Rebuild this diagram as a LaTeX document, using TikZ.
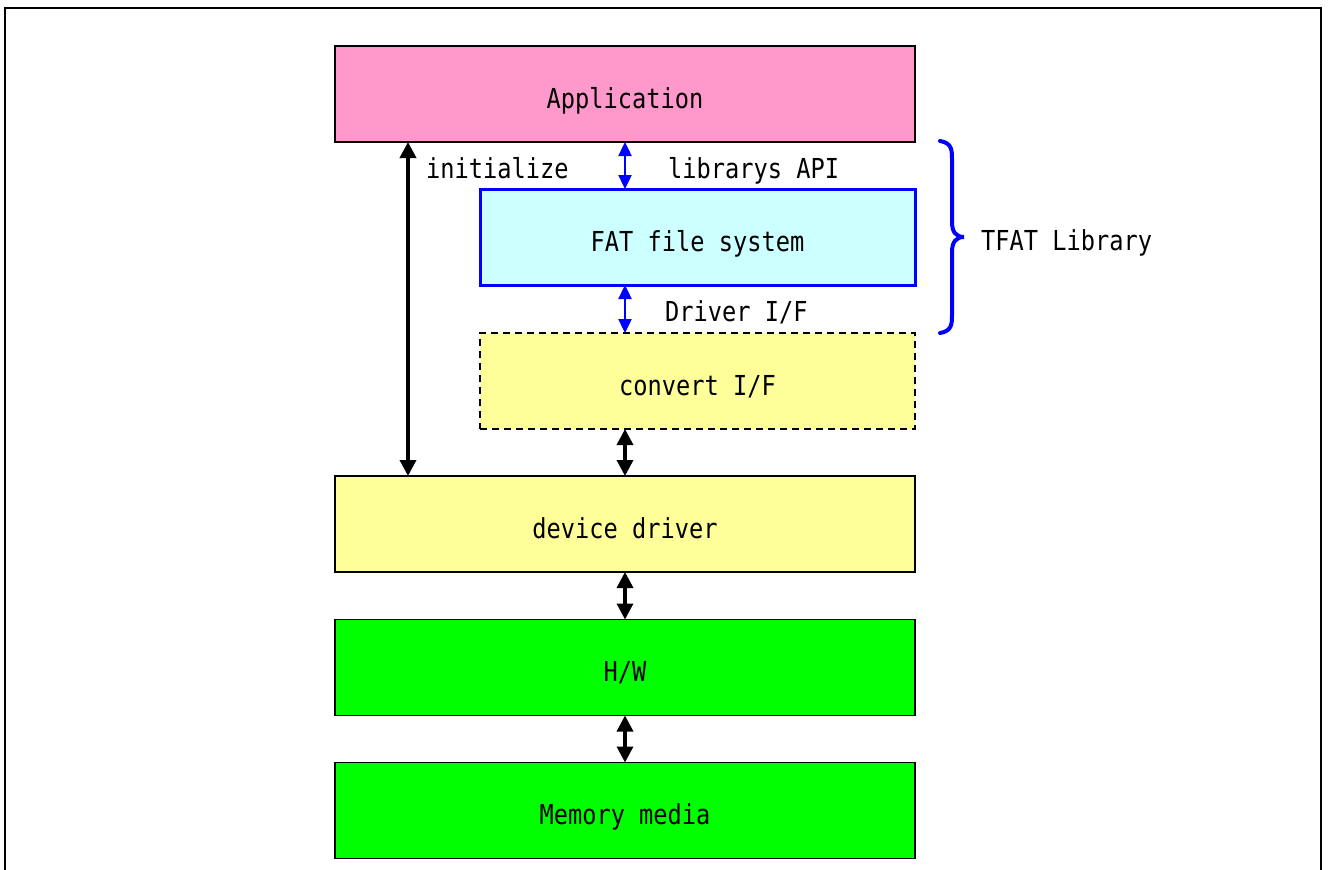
\documentclass[tikz,border=0pt]{standalone}
\usepackage{fontspec}
\usetikzlibrary{arrows.meta}
\newfontfamily\gfont[FakeStretch=0.86]{DejaVu Sans Mono}
\definecolor{pinkA}{HTML}{FF99CC}
\definecolor{cyanA}{HTML}{CCFFFF}
\definecolor{yelA}{HTML}{FFFF99}
\definecolor{grnA}{HTML}{00FF00}
\definecolor{bluA}{HTML}{0000FF}
\tikzset{
  blk/.style={draw=black, line width=1.6pt, minimum width=580pt, minimum height=96pt, inner sep=0pt, outer sep=0pt, text height=28pt, text depth=0pt, font=\gfont\fontsize{27.5}{30}\selectfont},
  nblk/.style={blk, minimum width=435pt},
  lbl/.style={anchor=west, inner sep=0pt, text height=20pt, text depth=0pt, font=\gfont\fontsize{27.5}{30}\selectfont},
  barr/.style={line width=3.5pt, {Triangle[width=16pt,length=16pt]}-{Triangle[width=16pt,length=16pt]}},
  uarr/.style={line width=2.4pt, bluA, {Triangle[width=13pt,length=14pt]}-{Triangle[width=13pt,length=14pt]}},
}
\begin{document}
\begin{tikzpicture}[x=1pt,y=-1pt]
\useasboundingbox (0,0) rectangle (1328,870);
\draw[line width=2.5pt] (5,872) -- (5,8) -- (1321,8) -- (1321,872);
\node[blk, fill=pinkA] (app) at (625,94) {Application};
\node[nblk, fill=cyanA, draw=bluA, line width=3pt] (fat) at (697.5,237) {FAT file system};
\node[nblk, fill=yelA, dashed, dash pattern=on 7pt off 5pt, line width=1.8pt] (conv) at (697.5,381) {convert I/F};
\node[blk, fill=yelA] (dev) at (625,524) {device driver};
\node[blk, fill=grnA] (hw) at (625,667.5) {H/W};
\node[blk, fill=grnA] (mem) at (625,810.5) {Memory media};
\coordinate (ix) at (408,0);
\draw[barr] (app.south -| ix) -- (dev.north -| ix);
\draw[uarr] (app.south) -- (fat.north -| app.south);
\draw[uarr] (fat.south -| app.south) -- (conv.north -| app.south);
\draw[barr] (conv.south -| app.south) -- (dev.north);
\draw[barr] (dev.south) -- (hw.north);
\draw[barr] (hw.south) -- (mem.north);
\node[lbl] (tinit) at (426,168) {initialize};
\node[lbl] (tapi) at (668,168) {librarys API};
\node[lbl] (tdrv) at (665,311) {Driver I/F};
\node[lbl] (tlib) at (981,240) {TFAT Library};
\draw[bluA, line width=4pt, line cap=round]
  (940,141) .. controls (952,143) and (952,150) .. (952,160)
  -- (952,222) .. controls (952,232) and (956,237) .. (964,237)
  .. controls (956,237) and (952,242) .. (952,252)
  -- (952,314) .. controls (952,324) and (952,331) .. (940,333);
\end{tikzpicture}
\end{document}
